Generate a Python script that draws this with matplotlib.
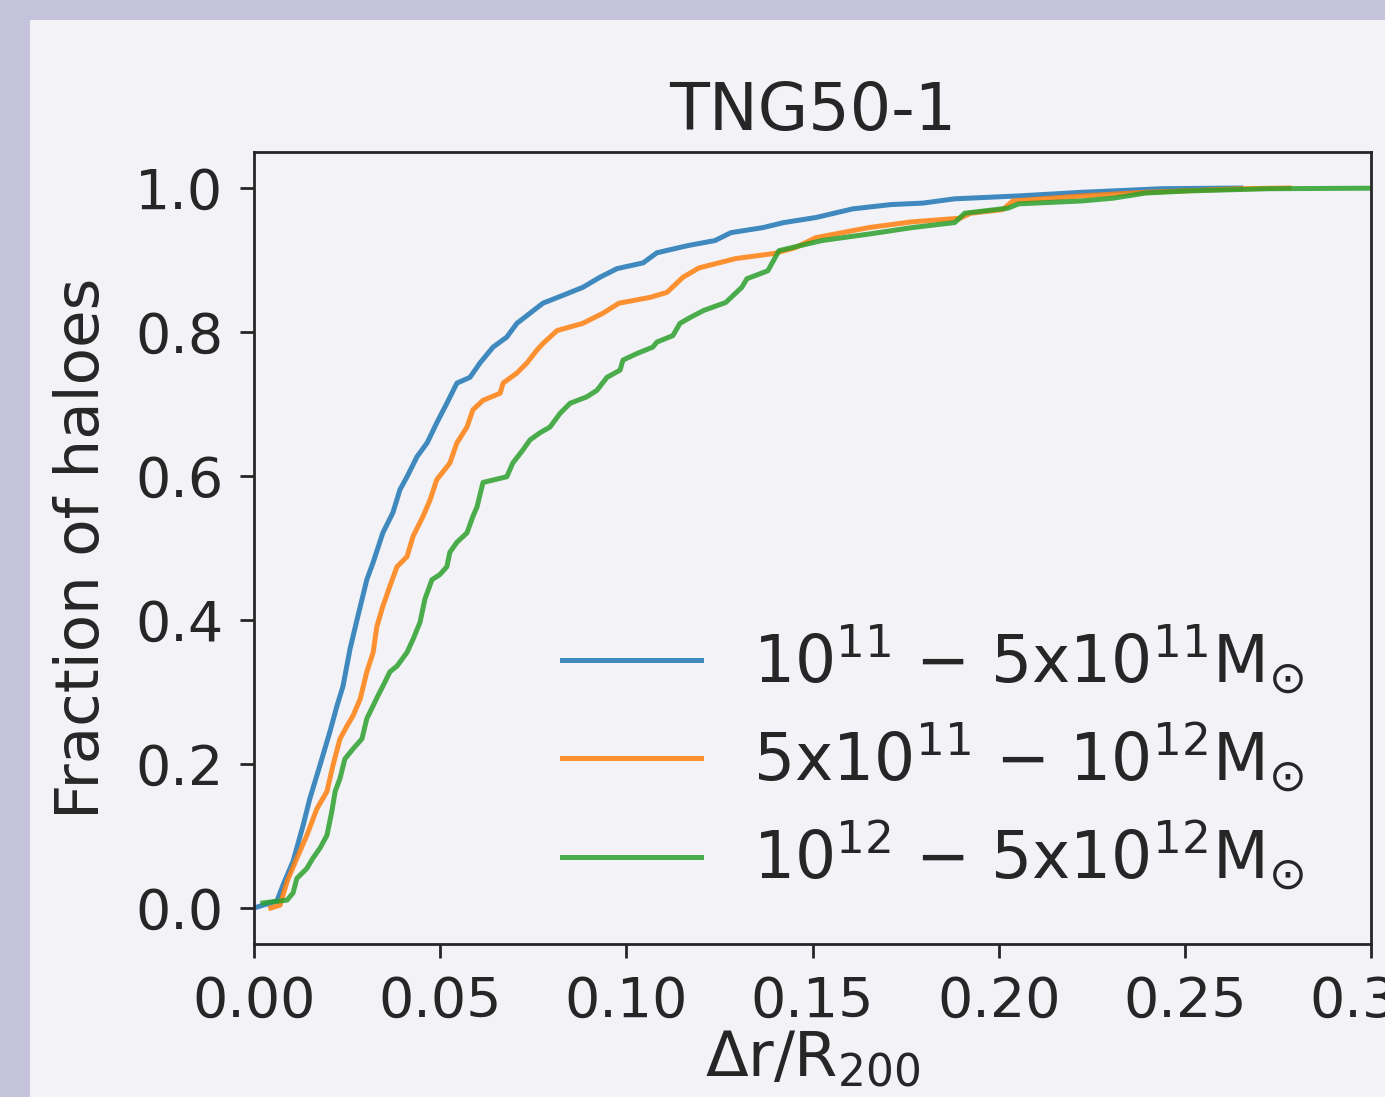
import matplotlib
matplotlib.use("Agg")
import matplotlib.pyplot as plt
from matplotlib.patches import Rectangle

# cumulative fraction of haloes vs offset
blue_x = [0.0, 0.0062, 0.0078, 0.0105, 0.0132, 0.0150, 0.0177, 0.0204, 0.0223, 0.0239,
          0.0258, 0.0277, 0.0303, 0.0320, 0.0346, 0.0373, 0.0392, 0.0411, 0.0438, 0.0465,
          0.0491, 0.0518, 0.0545, 0.0580, 0.0607, 0.0642, 0.0679, 0.0706, 0.0741, 0.0776,
          0.0830, 0.0883, 0.0929, 0.0975, 0.1045, 0.1082, 0.1165, 0.1238, 0.1281, 0.1367,
          0.1423, 0.1509, 0.1608, 0.1711, 0.1796, 0.1882, 0.2054, 0.2223, 0.2438, 0.265]
blue_y = [0.0, 0.010, 0.032, 0.065, 0.115, 0.152, 0.198, 0.245, 0.281, 0.308,
          0.360, 0.401, 0.456, 0.480, 0.521, 0.549, 0.581, 0.599, 0.627, 0.646,
          0.674, 0.701, 0.729, 0.737, 0.757, 0.779, 0.793, 0.812, 0.826, 0.840,
          0.851, 0.862, 0.876, 0.888, 0.896, 0.910, 0.920, 0.927, 0.938, 0.945,
          0.952, 0.959, 0.971, 0.977, 0.979, 0.985, 0.989, 0.994, 0.999, 1.0]

orange_x = [0.0045, 0.0070, 0.0089, 0.0115, 0.0142, 0.0169, 0.0196, 0.0212, 0.0231, 0.0250,
            0.0266, 0.0285, 0.0303, 0.0320, 0.0330, 0.0346, 0.0365, 0.0384, 0.0411, 0.0427,
            0.0454, 0.0473, 0.0491, 0.0526, 0.0545, 0.0572, 0.0588, 0.0615, 0.0661, 0.0669,
            0.0706, 0.0733, 0.0760, 0.0776, 0.0814, 0.0883, 0.0937, 0.0980, 0.1063, 0.1109,
            0.1152, 0.1195, 0.1294, 0.1396, 0.1453, 0.1509, 0.1651, 0.1767, 0.1896, 0.1925,
            0.2011, 0.2038, 0.2223, 0.2395, 0.2653, 0.278]
orange_y = [0.0, 0.004, 0.037, 0.069, 0.101, 0.138, 0.162, 0.198, 0.235, 0.253,
            0.267, 0.290, 0.328, 0.355, 0.391, 0.419, 0.447, 0.474, 0.488, 0.516,
            0.544, 0.567, 0.595, 0.618, 0.646, 0.668, 0.692, 0.705, 0.715, 0.729,
            0.743, 0.757, 0.775, 0.784, 0.802, 0.812, 0.826, 0.840, 0.848, 0.855,
            0.876, 0.889, 0.902, 0.909, 0.917, 0.931, 0.945, 0.953, 0.958, 0.965,
            0.970, 0.982, 0.989, 0.994, 0.999, 1.0]

green_x = [0.0024, 0.0089, 0.0105, 0.0115, 0.0142, 0.0158, 0.0177, 0.0196, 0.0209, 0.0218,
           0.0231, 0.0244, 0.0266, 0.0290, 0.0303, 0.0320, 0.0333, 0.0346, 0.0365, 0.0384,
           0.0411, 0.0427, 0.0446, 0.0459, 0.0478, 0.0499, 0.0518, 0.0526, 0.0545, 0.0572,
           0.0588, 0.0599, 0.0615, 0.0679, 0.0695, 0.0722, 0.0741, 0.0768, 0.0795, 0.0822,
           0.0849, 0.0894, 0.0921, 0.0948, 0.0983, 0.0991, 0.1028, 0.1071, 0.1082, 0.1125,
           0.1144, 0.1171, 0.1208, 0.1267, 0.1310, 0.1324, 0.1380, 0.1410, 0.1525, 0.1651,
           0.1767, 0.1882, 0.1909, 0.2025, 0.2054, 0.2223, 0.2309, 0.2395, 0.2511, 0.2726,
           0.31]
green_y = [0.007, 0.011, 0.021, 0.041, 0.055, 0.069, 0.083, 0.101, 0.134, 0.162,
           0.180, 0.207, 0.221, 0.235, 0.263, 0.281, 0.295, 0.308, 0.328, 0.336,
           0.355, 0.373, 0.397, 0.429, 0.456, 0.463, 0.474, 0.494, 0.508, 0.521,
           0.544, 0.557, 0.591, 0.599, 0.618, 0.636, 0.650, 0.660, 0.668, 0.687,
           0.701, 0.710, 0.719, 0.737, 0.747, 0.761, 0.770, 0.779, 0.786, 0.795,
           0.812, 0.820, 0.830, 0.841, 0.862, 0.874, 0.885, 0.913, 0.927, 0.936,
           0.945, 0.952, 0.965, 0.972, 0.978, 0.982, 0.986, 0.993, 0.996, 0.999,
           1.0]

labels = [
    r"$10^{11}$ $-$ 5x$10^{11}$M$_{\odot}$",
    r"5x$10^{11}$ $-$ $10^{12}$M$_{\odot}$",
    r"$10^{12}$ $-$ 5x$10^{12}$M$_{\odot}$",
]
colors = ["tab:blue", "tab:orange", "tab:green"]
x_ticks = [0.0, 0.05, 0.10, 0.15, 0.20, 0.25, 0.30]
y_ticks = [0.0, 0.2, 0.4, 0.6, 0.8, 1.0]

ink = "#262626"
panel = "#f2f2f7"

plt.rcParams["font.family"] = ["DejaVu Sans"]
plt.rcParams["mathtext.fontset"] = "dejavusans"
plt.rcParams["text.color"] = ink
plt.rcParams["axes.labelcolor"] = ink
plt.rcParams["xtick.color"] = ink
plt.rcParams["ytick.color"] = ink

fig = plt.figure(figsize=(13.85, 10.97), dpi=100, facecolor="#c5c3dc")
fig.add_artist(Rectangle((30 / 1385, 0), 1, 1 - 20 / 1097, transform=fig.transFigure,
                         facecolor=panel, edgecolor="none", zorder=0))

ax = fig.add_axes([254 / 1385, 1 - 944 / 1097, 1117 / 1385, 792 / 1097])
ax.set_facecolor(panel)

for xs, ys, c, lab in zip([blue_x, orange_x, green_x], [blue_y, orange_y, green_y], colors, labels):
    ax.plot(xs, ys, color=c, alpha=0.85, lw=3.6, label=lab)

ax.set_xlim(0, 0.3)
ax.set_ylim(-0.05, 1.05)
ax.set_xticks(x_ticks)
ax.set_yticks(y_ticks)
ax.set_xticklabels([f"{t:.2f}" for t in x_ticks])
ax.set_yticklabels([f"{t:.1f}" for t in y_ticks])
ax.tick_params(labelsize=40, length=10, width=2, pad=12, direction="out")
for s in ax.spines.values():
    s.set_color(ink)
    s.set_linewidth(2)

ax.set_title("TNG50-1", fontsize=47, pad=16)
ax.set_ylabel("Fraction of haloes", fontsize=44, labelpad=17)
ax.set_xlabel(r"$\Delta$r/R$_{200}$", fontsize=45, labelpad=0)

ax.legend(loc="lower right", bbox_to_anchor=(0.9633, 0.0316), frameon=False,
          fontsize=46.5, handlelength=2.15, handletextpad=0.8, labelspacing=0.37,
          borderaxespad=0)

fig.savefig("out.png", dpi=100, facecolor=fig.get_facecolor())
